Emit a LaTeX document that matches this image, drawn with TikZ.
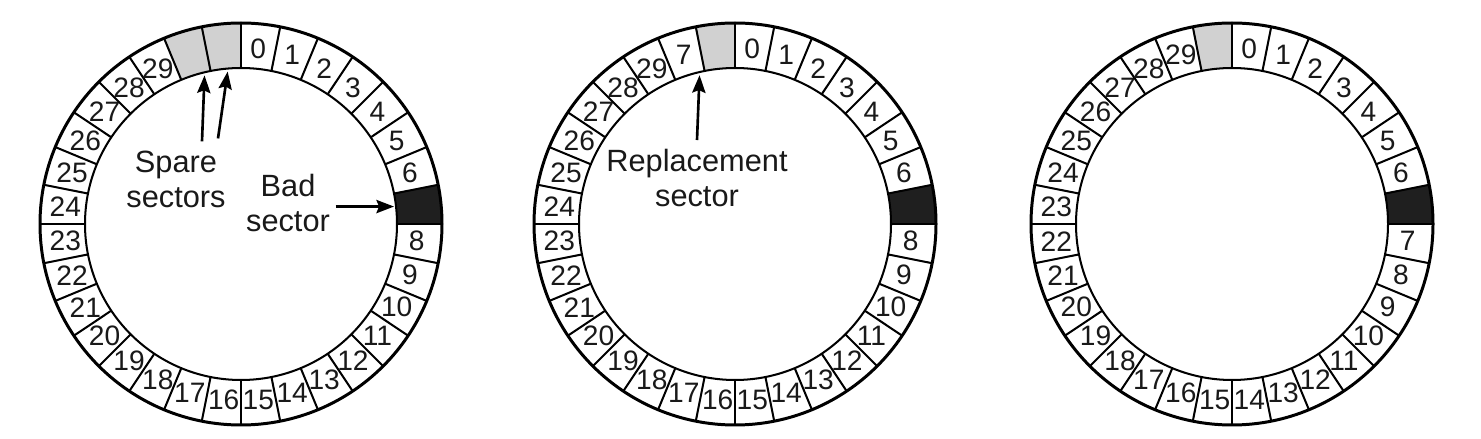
\documentclass[tikz,border=0pt]{standalone}
\usepackage{fontspec}
\setmainfont{Liberation Sans}
\usetikzlibrary{calc,arrows.meta,positioning}
\tikzset{
myOuter/.style={line width=1.7pt}
, myInner/.style={line width=1.15pt}
, mySpoke/.style={line width=1.15pt}
, mySpare/.style={fill=black!18}
, myBad/.style={fill=black!88}
, myNum/.style={
	font=\fontsize{16}{16}\selectfont,
	inner sep=0pt, text=black!90
}
, myText/.style={
	font=\fontsize{17.5}{20}\selectfont,
	align=center, inner sep=1pt, text=black!90
}
% link
, myArrow/.style={-{Stealth[length=10pt,width=7.5pt,inset=1.5pt]},line width=1.5pt}
}

\begin{document}
\begin{tikzpicture}
	\useasboundingbox (0,0) rectangle (29.62,8.78);
	% ring one
	\begin{scope}[shift={(4.82,4.30)}]
		\fill[mySpare] (90:3.12) arc[start angle=90,end angle=112.5,radius=3.12]
			-- (112.5:4.02) arc[start angle=112.5,end angle=90,radius=4.02] -- cycle;
		\fill[myBad] (0:3.12) arc[start angle=0,end angle=11.25,radius=3.12]
			-- (11.25:4.02) arc[start angle=11.25,end angle=0,radius=4.02] -- cycle;
		\foreach \lbl [count=\i from 0] in {0,1,2,3,4,5,6,{},8,9,10,11,12,13,14,15,16,17,18,19,20,21,22,23,24,25,26,27,28,29,{},{}} {
			\draw[mySpoke] ({90-\i*11.25}:3.12) -- ({90-\i*11.25}:4.02);
			\node[myNum] (oneS\i) at ({84.375-\i*11.25}:3.53) {\lbl};
		}
		\draw[myOuter] (0,0) circle (4.02);
		\draw[myInner] (0,0) circle (3.12);
		\coordinate (oneTipA) at (103.8:3.06);
		\coordinate (oneTipB) at (95:3.06);
		\coordinate (oneTipBad) at (6.5:3.08);
	\end{scope}
	% ring two
	\begin{scope}[shift={(14.70,4.30)}]
		\fill[mySpare] (90:3.12) arc[start angle=90,end angle=101.25,radius=3.12]
			-- (101.25:4.02) arc[start angle=101.25,end angle=90,radius=4.02] -- cycle;
		\fill[myBad] (0:3.12) arc[start angle=0,end angle=11.25,radius=3.12]
			-- (11.25:4.02) arc[start angle=11.25,end angle=0,radius=4.02] -- cycle;
		\foreach \lbl [count=\i from 0] in {0,1,2,3,4,5,6,{},8,9,10,11,12,13,14,15,16,17,18,19,20,21,22,23,24,25,26,27,28,29,7,{}} {
			\draw[mySpoke] ({90-\i*11.25}:3.12) -- ({90-\i*11.25}:4.02);
			\node[myNum] (twoS\i) at ({84.375-\i*11.25}:3.53) {\lbl};
		}
		\draw[myOuter] (0,0) circle (4.02);
		\draw[myInner] (0,0) circle (3.12);
		\coordinate (twoTip) at (103.4:3.06);
	\end{scope}
	% ring three
	\begin{scope}[shift={(24.64,4.30)}]
		\fill[mySpare] (90:3.12) arc[start angle=90,end angle=101.25,radius=3.12]
			-- (101.25:4.02) arc[start angle=101.25,end angle=90,radius=4.02] -- cycle;
		\fill[myBad] (0:3.12) arc[start angle=0,end angle=11.25,radius=3.12]
			-- (11.25:4.02) arc[start angle=11.25,end angle=0,radius=4.02] -- cycle;
		\foreach \lbl [count=\i from 0] in {0,1,2,3,4,5,6,{},7,8,9,10,11,12,13,14,15,16,17,18,19,20,21,22,23,24,25,26,27,28,29,{}} {
			\draw[mySpoke] ({90-\i*11.25}:3.12) -- ({90-\i*11.25}:4.02);
			\node[myNum] (threeS\i) at ({84.375-\i*11.25}:3.53) {\lbl};
		}
		\draw[myOuter] (0,0) circle (4.02);
		\draw[myInner] (0,0) circle (3.12);
	\end{scope}

	% labels
	\node[myText] (spareLbl) at (3.52,5.20) {Spare\\sectors};
	\node[myText] (badLbl) at (5.76,4.72) {Bad\\sector};
	\node[myText] (replLbl) at (13.94,5.22) {Replacement\\sector};

	% arrows
	\draw[myArrow] ([xshift=0.52cm,yshift=0.14cm]spareLbl.north) -- (oneTipA);
	\draw[myArrow] ([xshift=0.84cm,yshift=0.20cm]spareLbl.north) -- (oneTipB);
	\draw[myArrow] ([xshift=2pt]badLbl.east |- oneTipBad) -- (oneTipBad);
	\draw[myArrow] ([yshift=0.14cm]replLbl.north) -- (twoTip);
\end{tikzpicture}
\end{document}
